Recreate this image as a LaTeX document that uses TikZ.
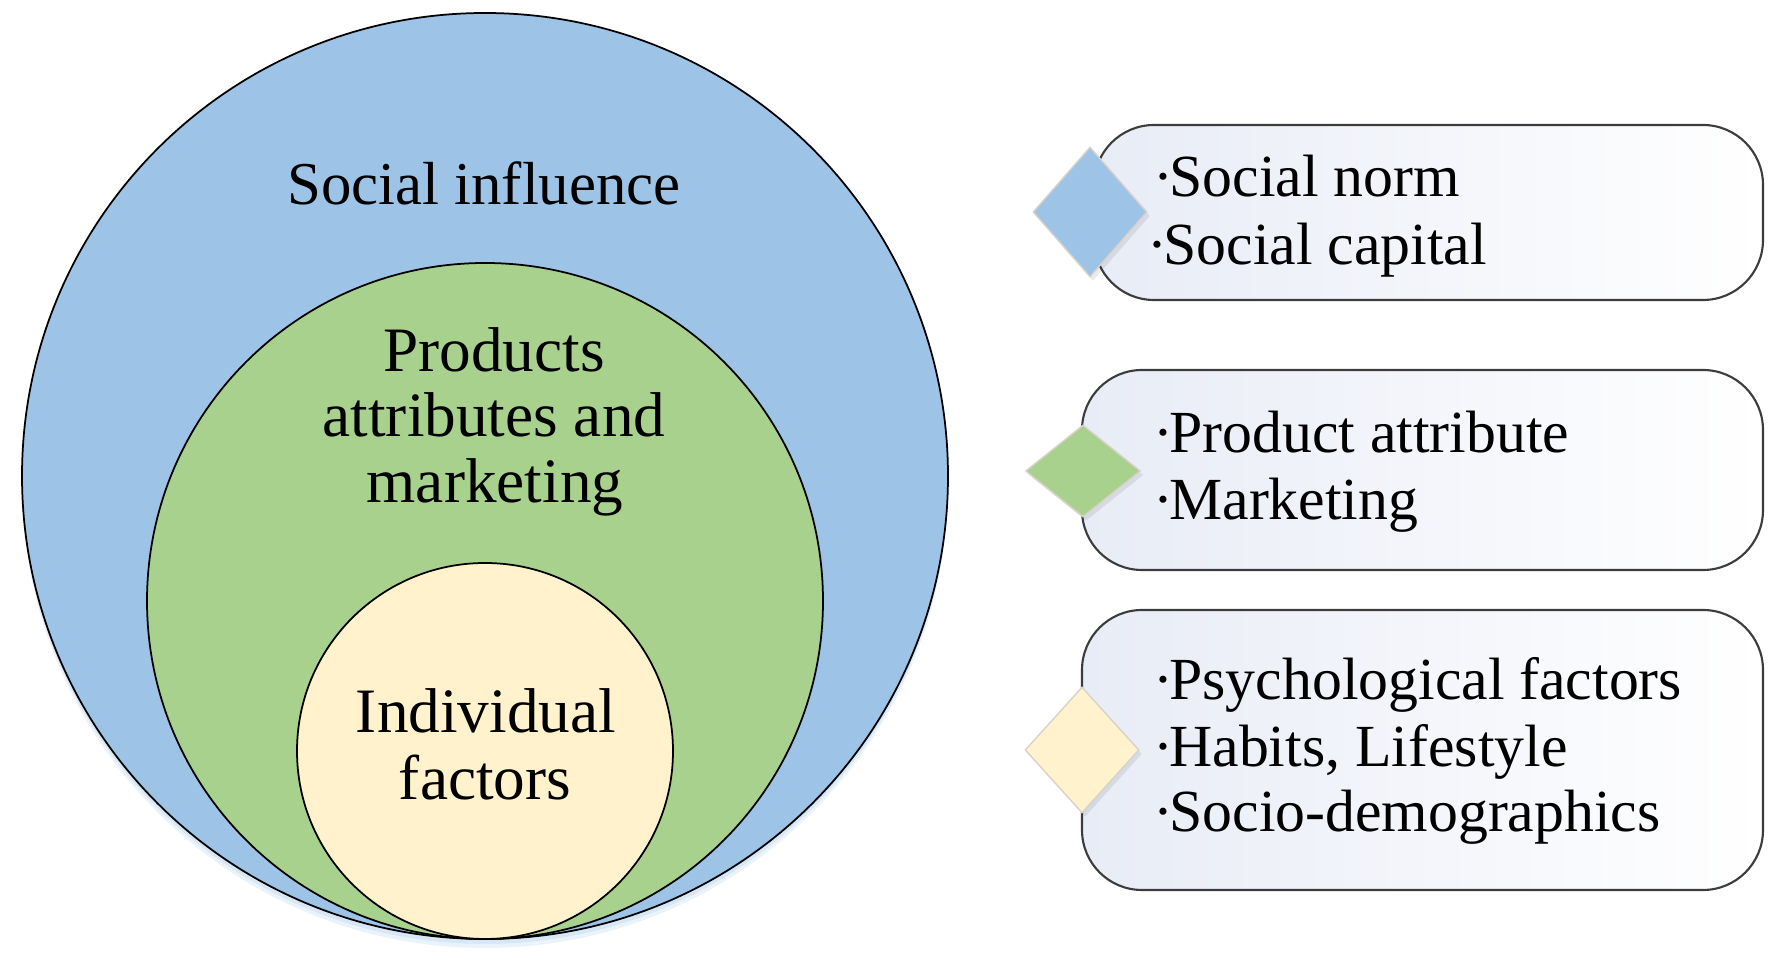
\documentclass[tikz,border=0pt]{standalone}
\usepackage{fontspec}
\setmainfont{Liberation Serif}
\usetikzlibrary{shapes.geometric}
\definecolor{blueF}{HTML}{9DC3E6}
\definecolor{greenF}{HTML}{A9D18E}
\definecolor{yellowF}{HTML}{FFF2CC}
\definecolor{boxL}{HTML}{E8ECF6}
\definecolor{boxLine}{HTML}{3C3C3C}
\definecolor{diaLine}{HTML}{D8D2CA}
\newcommand\bdot{·\kern-1.2pt}
\tikzset{
  circ/.style={circle, draw=black, line width=0.5pt, inner sep=0pt},
  ctext/.style={font=\fontsize{18}{19}\selectfont, anchor=base, inner sep=0pt},
  btext/.style={font=\fontsize{17}{19}\selectfont, anchor=base west, inner sep=0pt},
  infobox/.style={rectangle, rounded corners=6mm, draw=boxLine, line width=0.6pt,
    shade, shading=axis, left color=boxL, right color=white, shading angle=90, inner sep=0pt},
  marker/.style={diamond, draw=diaLine, line width=0.4pt, inner sep=0pt},
  glow/.style={circle, fill=blueF, inner sep=0pt}
}
\begin{document}
\begin{tikzpicture}[x=0.1mm, y=-0.1mm]
\useasboundingbox (0,0) rectangle (1770,970);
% soft glow under the outer circle
\node[glow, opacity=0.25, minimum size=92.6mm] (glowA) at (485,481) {};
\node[glow, opacity=0.2, minimum size=92.6mm] (glowB) at (485,485) {};
% circles
\node[circ, fill=blueF, minimum size=92.6mm] (outer) at (485,476) {};
\node[circ, fill=greenF, minimum size=67.6mm] (middle) at (485,601) {};
\node[circ, fill=yellowF, minimum size=37.6mm] (inner) at (485,751) {};
% circle labels
\node[ctext, font=\fontsize{17.3}{19}\selectfont] (si) at (484,205) {Social influence};
\node[ctext] (pa1) at (494,372) {Products};
\node[ctext] (pa2) at (494,437) {attributes and};
\node[ctext] (pa3) at (495,503) {marketing};
\node[ctext] (if1) at (486,733) {Individual};
\node[ctext] (if2) at (485,800) {factors};
% boxes
\node[infobox, minimum width=66.9mm, minimum height=17.5mm] (box1) at (1428.5,212.5) {};
\node[infobox, minimum width=68.1mm, minimum height=20mm] (box2) at (1422.5,470) {};
\node[infobox, minimum width=68.1mm, minimum height=28mm] (box3) at (1422.5,750) {};
% diamond shadows
\node[marker, draw=none, fill=black, opacity=0.08, minimum width=11.4mm, minimum height=13mm] (d1s) at (1093,216) {};
\node[marker, draw=none, fill=black, opacity=0.08, minimum width=11.5mm, minimum height=9.2mm] (d2s) at (1086,475) {};
\node[marker, draw=none, fill=black, opacity=0.08, minimum width=11.4mm, minimum height=12.6mm] (d3s) at (1085,754) {};
% diamonds
\node[marker, fill=blueF, minimum width=11.4mm, minimum height=13mm] (d1) at (1090,212) {};
\node[marker, fill=greenF, minimum width=11.5mm, minimum height=9.2mm] (d2) at (1083,471) {};
\node[marker, fill=yellowF, minimum width=11.4mm, minimum height=12.6mm] (d3) at (1082,750) {};
% box texts
\node[btext] (b1a) at (1153,197) {\bdot Social norm};
\node[btext] (b1b) at (1147,265) {\bdot Social capital};
\node[btext] (b2a) at (1153,453) {\bdot Product attribute};
\node[btext] (b2b) at (1153,520) {\bdot Marketing};
\node[btext] (b3a) at (1153,700) {\bdot Psychological factors};
\node[btext] (b3b) at (1153,767) {\bdot Habits, Lifestyle};
\node[btext] (b3c) at (1153,832) {\bdot Socio-demographics};
\end{tikzpicture}
\end{document}
